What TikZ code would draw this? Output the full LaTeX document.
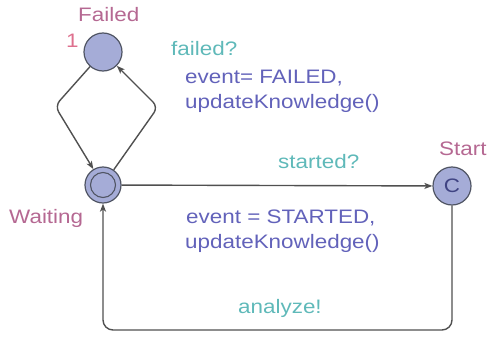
\documentclass[tikz,border=0pt]{standalone}
\usepackage{fontspec}
\setmainfont{Liberation Sans}[FakeStretch=1.15]
\usetikzlibrary{arrows.meta}

\definecolor{locname}{RGB}{181,104,146}
\definecolor{invcol}{RGB}{222,112,142}
\definecolor{synccol}{RGB}{95,185,185}
\definecolor{updcol}{RGB}{98,98,186}
\definecolor{locfill}{RGB}{165,172,215}
\definecolor{locline}{RGB}{80,85,100}
\definecolor{edgecol}{RGB}{80,80,80}

\tikzset{
  lbl/.style={inner sep=0pt, anchor=base west, font=\fontsize{19.5}{25}\selectfont},
  location/.style={circle, draw=locline, fill=locfill, line width=1.2pt,
                   minimum size=38pt, inner sep=0pt},
  edge/.style={draw=edgecol, line width=1.4pt, rounded corners=7pt,
               -{Stealth[length=8pt,width=6pt,inset=2pt]}},
}

\begin{document}
\begin{tikzpicture}[x=1pt,y=-1pt]
\useasboundingbox (0,0) rectangle (487,337);

% locations
\node[location] (failed) at (103,52) {};
\node[location, minimum size=36pt] (waiting) at (103,185) {};
\draw[locline, line width=1.1pt] (waiting.center) circle (12.5pt);
\node[location, font=\fontsize{19.5}{25}\selectfont\color{locline!80!blue}] (start) at (452,186) {C};

% location names
\node[lbl, text=locname] (nFailed) at (78,22) {Failed};
\node[lbl, text=invcol] (inv) at (66,48) {1};
\node[lbl, text=locname] (nWaiting) at (9,223) {Waiting};
\node[lbl, text=locname] (nStart) at (439,155) {Start};

% bend points
\coordinate (lc) at (55,106);
\coordinate (rc) at (158,107);
\coordinate (br) at (452,330);
\coordinate (bl) at (103,330);

% transitions
\draw[edge] (failed) -- (lc) -- (waiting);
\draw[edge] (waiting) -- (rc) -- (failed);
\draw[edge, rounded corners=0pt] (waiting) -- (start);
\draw[edge, rounded corners=10pt] (start) -- (br) -- (bl) -- (waiting);

% transition labels
\node[lbl, text=synccol] (s1) at (171,56) {failed?};
\node[lbl, text=updcol] (u1a) at (185,83) {event= FAILED,};
\node[lbl, text=updcol] (u1b) at (185,108) {updateKnowledge()};
\node[lbl, text=synccol] (s2) at (278,168) {started?};
\node[lbl, text=updcol] (u2a) at (186,223) {event = STARTED,};
\node[lbl, text=updcol] (u2b) at (185,248) {updateKnowledge()};
\node[lbl, text=synccol] (s3) at (238,313) {analyze!};
\end{tikzpicture}
\end{document}
